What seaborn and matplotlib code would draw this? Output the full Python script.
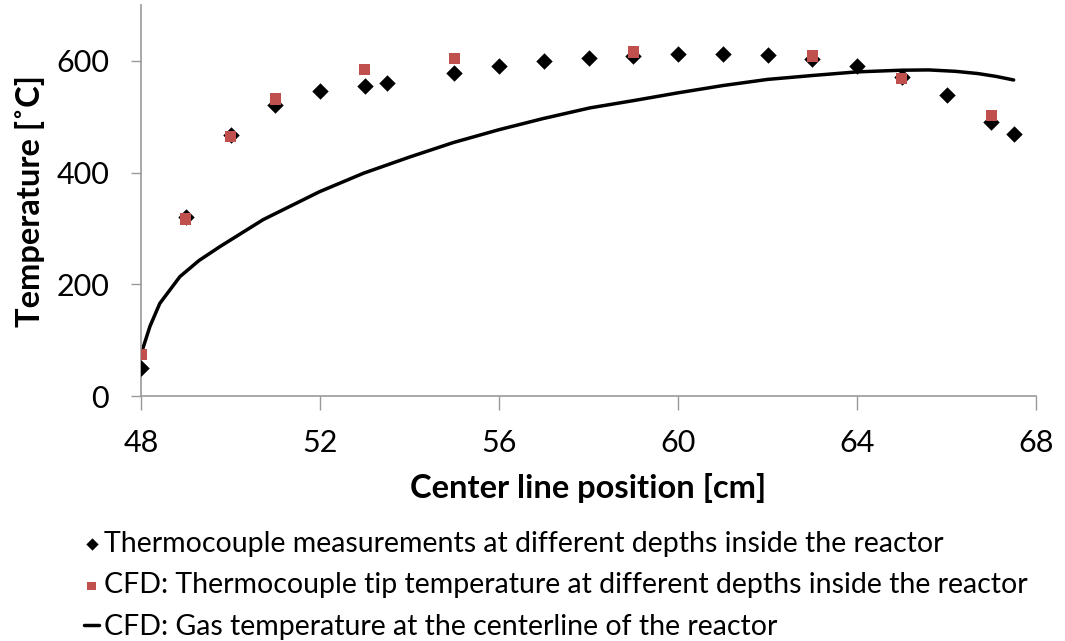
import matplotlib
matplotlib.use("Agg")
import matplotlib.pyplot as plt
import seaborn as sns
import pandas as pd

# Thermocouple measurements
meas_x = [48, 49, 50, 51, 52, 53, 53.5, 55, 56, 57, 58, 59, 60, 61, 62, 63, 64, 65, 66, 67, 67.5]
meas_y = [50, 321, 468, 521, 547, 556, 561, 578, 591, 600, 605, 609, 612, 613, 611, 604, 591, 572, 539, 491, 469]

# CFD thermocouple tip temperature
tip_x = [48, 49, 50, 51, 53, 55, 59, 63, 65, 67]
tip_y = [74, 317, 465, 532, 585, 604, 616, 609, 569, 502]

# CFD gas temperature along centreline
gas_x = [48.0, 48.2, 48.42, 48.87, 49.3, 49.77, 50.73, 51.99, 52.97, 54.0, 54.98, 56.0, 56.99, 58.03,
         59.0, 60.0, 61.0, 62.0, 63.0, 64.0, 65.0, 65.6, 66.2, 66.7, 67.1, 67.5]
gas_y = [75, 125, 166, 214, 243, 268, 316, 366, 399, 428, 454, 477, 497, 516,
         529, 543, 556, 567, 574, 580.5, 583.5, 584, 581.5, 577.5, 572.5, 566]

labels = ["Thermocouple measurements at different depths inside the reactor",
          "CFD: Thermocouple tip temperature at different depths inside the reactor",
          "CFD: Gas temperature at the centerline of the reactor"]

sns.set_theme(style="white")
plt.rcParams['font.family'] = ['Lato', 'DejaVu Sans']

fig = plt.figure(figsize=(10.65, 6.41), dpi=100)
ax = fig.add_axes([0.1324, 0.382, 0.8404, 0.61])

df_m = pd.DataFrame({"x": meas_x, "y": meas_y})
df_t = pd.DataFrame({"x": tip_x, "y": tip_y})
df_g = pd.DataFrame({"x": gas_x, "y": gas_y})

sns.lineplot(data=df_g, x="x", y="y", ax=ax, color="black", linewidth=2.5, label=labels[2], zorder=2)
sns.scatterplot(data=df_m, x="x", y="y", ax=ax, marker="D", color="black", s=70, edgecolor="black",
                linewidth=0, label=labels[0], zorder=3)
sns.scatterplot(data=df_t, x="x", y="y", ax=ax, marker="s", color="#c0504d", s=65, edgecolor="none",
                linewidth=0, label=labels[1], zorder=4)

ax.set_xlim(48, 68)
ax.set_ylim(0, 700)
ax.set_xticks([48, 52, 56, 60, 64, 68])
ax.set_yticks([0, 200, 400, 600])
ax.set_xlabel("Center line position [cm]", fontsize=23.5, fontweight="bold", labelpad=11, color="black")
ax.set_ylabel("Temperature [˚C]", fontsize=23.5, fontweight="bold", labelpad=8, color="black")
ax.tick_params(axis="both", labelsize=22, colors="black", length=0)
ax.tick_params(axis="x", direction="out", length=10, width=1, color="#999999", bottom=True, pad=14)
ax.tick_params(axis="y", direction="out", length=7, width=1, color="#999999", left=True, pad=16)
for s in ["top", "right"]:
    ax.spines[s].set_visible(False)
for s in ["left", "bottom"]:
    ax.spines[s].set_color("#999999")
    ax.spines[s].set_linewidth(1.2)

h, l = ax.get_legend_handles_labels()
ax.legend_.remove()
order = [1, 2, 0]
leg = fig.legend([h[i] for i in order], [l[i] for i in order], loc="upper left",
                 bbox_to_anchor=(0.068, 0.19), frameon=False, fontsize=20.5, markerscale=0.75,
                 handlelength=0.55, handletextpad=0.15, labelspacing=0.55, borderaxespad=0)
for t in leg.get_texts():
    t.set_color("black")

fig.savefig("out.png", dpi=100)
